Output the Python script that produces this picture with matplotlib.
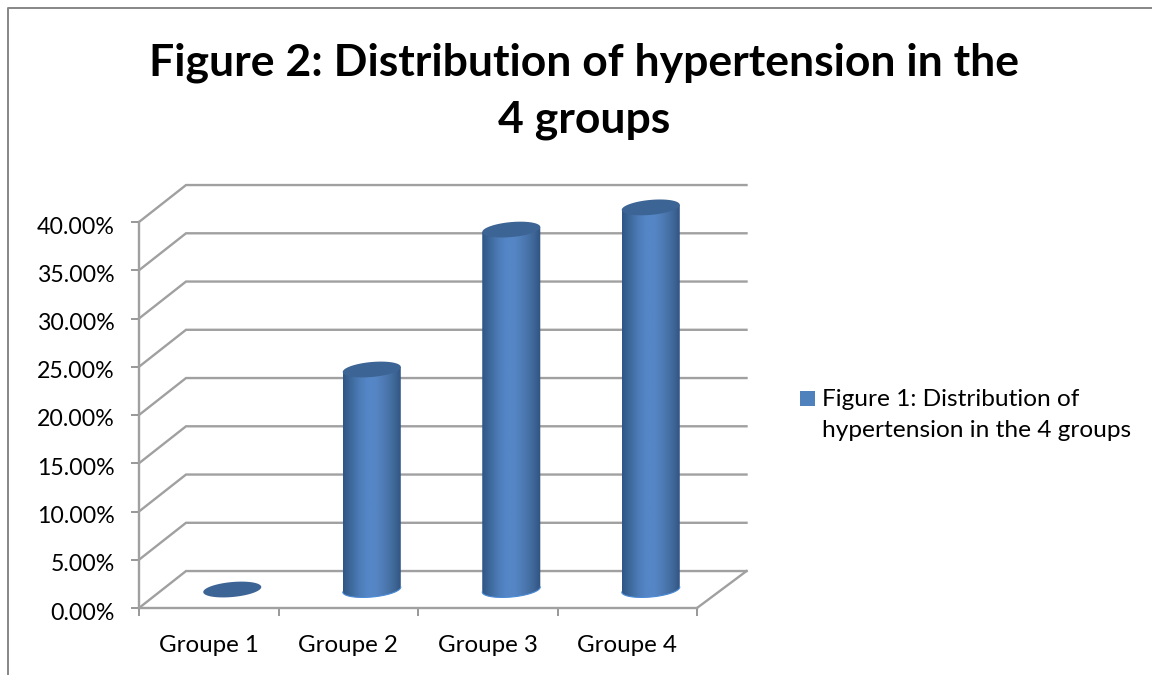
import matplotlib
matplotlib.use("Agg")
import matplotlib.pyplot as plt
import numpy as np
from matplotlib.colors import LinearSegmentedColormap
from matplotlib.lines import Line2D
from matplotlib.patches import Polygon, Rectangle
from matplotlib.transforms import ScaledTranslation

plt.rcParams["font.family"] = ["Lato", "DejaVu Sans"]

groups = ["Groupe 1", "Groupe 2", "Groupe 3", "Groupe 4"]
values = [0.0, 22.8, 37.3, 39.6]
y_ticks = [0, 5, 10, 15, 20, 25, 30, 35, 40]
title = "Figure 2: Distribution of hypertension in the\n4 groups"
legend_label = "Figure 1: Distribution of\nhypertension in the 4 groups"

W, H = 1152, 675
GREY = "#868686"
WALL = "#a0a0a0"

# depth of the fake 3d box, in data units
depth_x = 0.337
depth_y = 3.83
right_x = 0.355
half_w = 0.208
ell_h = 0.777
ell_tilt = 0.26
y_max = 46  # room above the 40% tick so the bars are not cut

cyl_cmap = LinearSegmentedColormap.from_list(
    "cyl", ["#2f5685", "#3e6a9c", "#4d7cb8", "#5587c8", "#5585c4", "#4d79b2", "#416a9b", "#2f5280"]
)

fig = plt.figure(figsize=(W / 100, H / 100), dpi=100)
ax = fig.add_axes([139 / W, (H - 608) / H, 558 / W, 386 * y_max / 40 / H])
ax.patch.set_visible(False)

# chart frame, open at the bottom and on the right
fig.add_artist(Line2D([8 / W, 8 / W, 1], [0, 1 - 8 / H, 1 - 8 / H], color=GREY, lw=1.4))

n = len(groups)
for t in y_ticks:
    ax.plot([0, depth_x, n + right_x], [t, t + depth_y, t + depth_y], color=WALL, lw=1.7,
            clip_on=False, zorder=1, solid_joinstyle="miter")
ax.plot([n, n + right_x], [0, depth_y], color=WALL, lw=1.7, clip_on=False, zorder=1)

theta = np.linspace(0, 2 * np.pi, 121)
for i, v in enumerate(values):
    cx = i + 0.5 + depth_x / 2
    base = depth_y / 2
    top = base + v
    ex = half_w * np.cos(theta)
    ey = ell_tilt * np.cos(theta) + ell_h * np.sin(theta)
    if v > 0:
        low = theta[(theta >= np.pi) & (theta <= 2 * np.pi)]
        arc_x = cx + half_w * np.cos(low)
        arc_y = base + ell_tilt * np.cos(low) + ell_h * np.sin(low)
        outline = np.vstack([
            [cx - half_w, top - ell_tilt],
            np.column_stack([arc_x, arc_y]),
            [cx + half_w, top + ell_tilt],
        ])
        body = Polygon(outline, closed=True, transform=ax.transData, facecolor="none", edgecolor="none")
        ax.add_patch(body)
        im = ax.imshow(np.linspace(0, 1, 256)[None, :], cmap=cyl_cmap, aspect="auto", zorder=3,
                       extent=[cx - half_w, cx + half_w, 0, top + 1])
        im.set_clip_path(body)
        ax.plot(arc_x, arc_y, color="#4a8ad6", lw=0.8, zorder=4, clip_on=False)
    ax.fill(cx + ex, top + ey, color="#3c6494", lw=0, zorder=5, clip_on=False)

ax.set_xlim(0, n)
ax.set_ylim(0, y_max)
ax.set_xticks(range(n + 1))
ax.set_xticklabels([])
ax.set_xticks([i + 0.5 for i in range(n)], groups, minor=True)
ax.set_yticks(y_ticks, ["%.2f%%" % t for t in y_ticks])
ax.tick_params(axis="y", length=5.5, width=1.2, color=GREY, labelsize=16.7, pad=12, labelcolor="black")
ax.tick_params(axis="x", which="major", length=5.5, width=1.2, color=GREY)
ax.tick_params(axis="x", which="minor", length=0, labelsize=17.4, pad=19.5, labelcolor="black")
for s in ["top", "right"]:
    ax.spines[s].set_visible(False)
for s in ["left", "bottom"]:
    ax.spines[s].set_color(WALL)
    ax.spines[s].set_linewidth(1.7)
ax.spines["left"].set_bounds(0, 40)

# the labels sit a little under their ticks
shift = ScaledTranslation(0, -3 / 100, fig.dpi_scale_trans)
for label in ax.get_yticklabels():
    label.set_transform(label.get_transform() + shift)

fig.text(584 / W, 1 - 91 / H, title, ha="center", va="center", fontsize=32, fontweight="bold",
         linespacing=1.5, color="black")

fig.add_artist(Rectangle((800 / W, 1 - 406 / H), 15 / W, 15 / H, transform=fig.transFigure,
                         facecolor="#4f81bd", edgecolor="none"))
fig.text(822 / W, 1 - 415 / H, legend_label, ha="left", va="center", fontsize=17.6, linespacing=1.62,
         color="black")

fig.savefig("out.png", dpi=100)
